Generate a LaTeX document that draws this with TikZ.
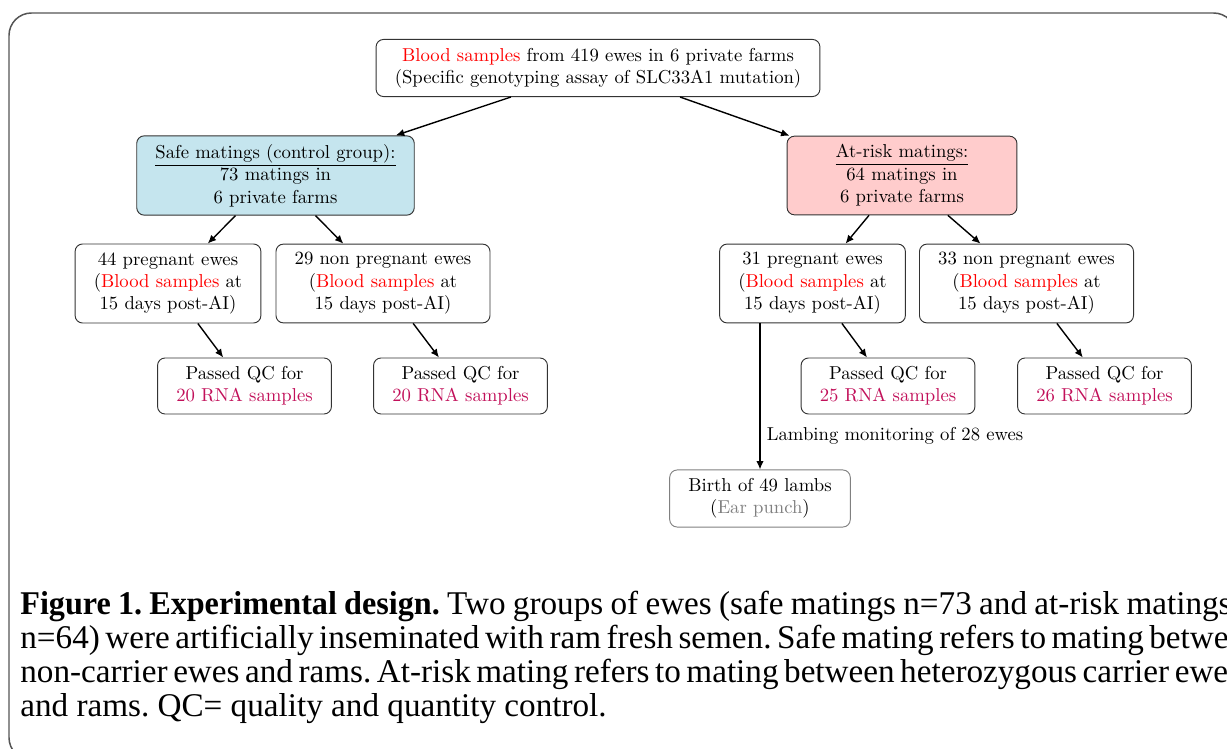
\documentclass[tikz,border=0pt]{standalone}
\usepackage{fontspec}
\usepackage{tikz}
\usetikzlibrary{arrows.meta,positioning,calc}
\newfontfamily\figcapfont[BoldFeatures={FakeStretch=0.97}]{Liberation Serif}
\definecolor{safeFill}{HTML}{C5E5EE}
\definecolor{riskFill}{HTML}{FFCCCC}
\definecolor{rnaText}{HTML}{C2105A}
\definecolor{frameDraw}{HTML}{555555}
\newcommand{\capline}[1]{\makebox[648pt][s]{#1}}
\tikzset{
  font=\normalsize,
  box/.style  ={draw=black!80, rounded corners, align=center, inner xsep=10pt, inner ysep=4.5pt, fill=white, line width=0.5pt},
  safe/.style ={box, fill=safeFill},
  risk/.style ={box, fill=riskFill, minimum width=123pt},
  lamb/.style ={box, draw=black!50},
  arr/.style  ={-{Latex[length=4.5pt,width=4pt]}, line width=0.75pt},
}
\begin{document}
\begin{tikzpicture}[x=0.535pt, y=-0.535pt]
  \useasboundingbox (0,0) rectangle (1227,749);
  \clip (0,0) rectangle (1227,749);
  % outer frame
  \draw[frameDraw, line width=0.8pt, rounded corners=12pt] (9,13) rectangle (1236,760);

  % genotyping
  \node[box] (top) at (598,68)
    {\textcolor{red}{Blood samples} from 419 ewes in 6 private farms\\(Specific genotyping assay of SLC33A1 mutation)};
  % the two mating groups
  \node[safe] (safe) at (275.5,175.5) {\underline{Safe matings (control group):}\\73 matings in\\6 private farms};
  \node[risk] (risk) at (902,175.5)   {\underline{At-risk matings:}\\64 matings in\\6 private farms};
  % pregnancy status
  \node[box] (sp)  at (168,283.5)   {44 pregnant ewes\\(\textcolor{red}{Blood samples} at\\15 days post-AI)};
  \node[box] (snp) at (383,283.5)   {29 non pregnant ewes\\(\textcolor{red}{Blood samples} at\\15 days post-AI)};
  \node[box] (rp)  at (812.5,283.5) {31 pregnant ewes\\(\textcolor{red}{Blood samples} at\\15 days post-AI)};
  \node[box] (rnp) at (1026.5,283.5){33 non pregnant ewes\\(\textcolor{red}{Blood samples} at\\15 days post-AI)};
  % RNA quality control
  \node[box] (qc1) at (244.5,386)  {Passed QC for\\\textcolor{rnaText}{20 RNA samples}};
  \node[box] (qc2) at (460.5,386)  {Passed QC for\\\textcolor{rnaText}{20 RNA samples}};
  \node[box] (qc3) at (888,386)    {Passed QC for\\\textcolor{rnaText}{25 RNA samples}};
  \node[box] (qc4) at (1104.5,386) {Passed QC for\\\textcolor{rnaText}{26 RNA samples}};
  % lambs
  \node[lamb] (birth) at (760,498.5) {Birth of 49 lambs\\(\textcolor{gray}{Ear punch})};

  \draw[arr] (top) -- (safe); \draw[arr] (top) -- (risk);
  \draw[arr] (safe) -- (sp);  \draw[arr] (safe) -- (snp);
  \draw[arr] (risk) -- (rp);  \draw[arr] (risk) -- (rnp);
  \draw[arr] (sp) -- (qc1);   \draw[arr] (snp) -- (qc2);
  \draw[arr] (rp) -- (qc3);   \draw[arr] (rnp) -- (qc4);
  \draw[arr] (birth |- rp.south) -- node[right, pos=0.77] {Lambing monitoring of 28 ewes} (birth);

  % caption, justified lines running past the frame
  \node[anchor=north west, inner sep=0pt, align=left,
        font=\figcapfont\fontsize{17.75}{18.2}\selectfont\frenchspacing] (cap) at (20,591)
    {\capline{\textbf{Figure 1. Experimental design.} Two groups of ewes (safe matings n=73 and at-risk matings}\\
     \capline{n=64) were artificially inseminated with ram fresh semen. Safe mating refers to mating between}\\
     \capline{non-carrier ewes and rams. At-risk mating refers to mating between heterozygous carrier ewes}\\
     and rams. QC= quality and quantity control.};
\end{tikzpicture}
\end{document}
